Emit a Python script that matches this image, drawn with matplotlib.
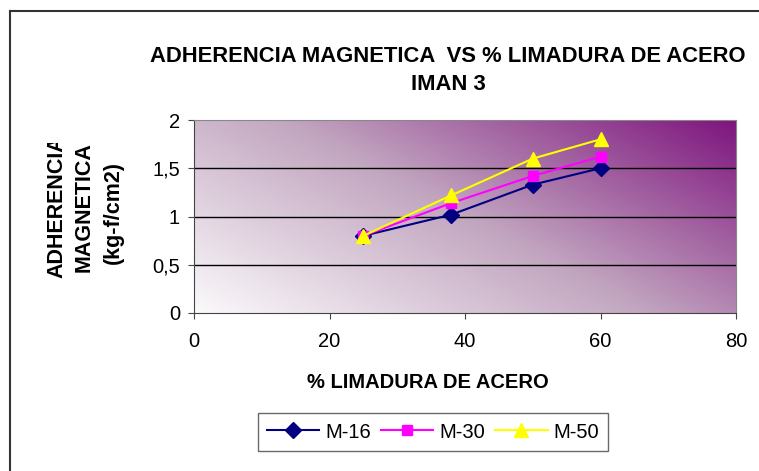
import numpy as np
import matplotlib
matplotlib.use("Agg")
import matplotlib.pyplot as plt
from matplotlib.colors import LinearSegmentedColormap
from matplotlib.lines import Line2D
from matplotlib.transforms import Bbox

plt.rcParams['font.family'] = ['Liberation Sans', 'DejaVu Sans']

# Data
limadura = [25, 38, 50, 60]
m16 = [0.80, 1.02, 1.33, 1.50]
m30 = [0.80, 1.14, 1.42, 1.62]
m50 = [0.80, 1.22, 1.60, 1.80]
series_names = ['M-16', 'M-30', 'M-50']
x_ticks = [0, 20, 40, 60, 80]
y_ticks = [0, 0.5, 1, 1.5, 2]
y_tick_labels = ['0', '0,5', '1', '1,5', '2']

fig = plt.figure(figsize=(7.59, 4.71), dpi=100)
ax = fig.add_axes([194 / 759, 1 - 313 / 471, (736 - 194) / 759, (313 - 120) / 471])

# gradient background (white bottom-left -> purple top-right)
cmap = LinearSegmentedColormap.from_list('grad', ['#fbf9fb', '#c2a6c0', '#7e157e'])
u, v = np.meshgrid(np.linspace(0, 1, 300), np.linspace(0, 1, 150))
t = (u * 0.6 + v * 0.4)
ax.imshow(t, extent=[0, 80, 0, 2], origin='lower', aspect='auto', cmap=cmap,
          vmin=0, vmax=1, zorder=0, interpolation='bilinear')

for yy in [0.5, 1, 1.5]:
    ax.axhline(yy, color='black', lw=1, zorder=1)

ax.plot(limadura, m16, color='#000080', marker='D', ms=8, lw=1.5, label=series_names[0], zorder=3)
ax.plot(limadura, m30, color='#FF00FF', marker='s', ms=7.5, lw=1.5, label=series_names[1], zorder=4)
ax.plot(limadura, m50, color='#FFFF00', marker='^', ms=10, lw=1.5, label=series_names[2], zorder=5)

ax.set_xlim(0, 80)
ax.set_ylim(0, 2)
ax.set_xticks(x_ticks)
ax.set_yticks(y_ticks)
ax.set_yticklabels(y_tick_labels)
ax.tick_params(labelsize=14.5, direction='out', length=4, color='#444444')
ax.tick_params(axis='x', pad=10)
ax.tick_params(axis='y', pad=6)
for s in ['top', 'right']:
    ax.spines[s].set_color('#888888')
for s in ['left', 'bottom']:
    ax.spines[s].set_color('#444444')

fig.text(448 / 759, 1 - 56 / 471, 'ADHERENCIA MAGNETICA  VS % LIMADURA DE ACERO',
         ha='center', va='center', fontsize=15.8, fontweight='bold')
fig.text(448 / 759, 1 - 85 / 471, 'IMAN 3', ha='center', va='center', fontsize=15.8, fontweight='bold')

fig.text(428 / 759, 1 - 383 / 471, '% LIMADURA DE ACERO', ha='center', va='center',
         fontsize=14.5, fontweight='bold')

# y label, first line clipped as in original
clip = Bbox.from_extents(0, 0, 759, 471 - 143)
t1 = fig.text(57 / 759, 1 - 278 / 471, 'ADHERENCIA', rotation=90, ha='center', va='bottom',
              fontsize=15.5, fontweight='bold')
t1.set_clip_box(clip)
t1.set_clip_on(True)
fig.text(84 / 759, 1 - 207 / 471, 'MAGNETICA', rotation=90, ha='center', va='center',
         fontsize=15.5, fontweight='bold')
fig.text(113 / 759, 1 - 213 / 471, '(kg-f/cm2)', rotation=90, ha='center', va='center',
         fontsize=15.5, fontweight='bold')

leg = fig.legend(loc='center', bbox_to_anchor=(433 / 759, 1 - 432 / 471), ncol=3,
                 fontsize=14.5, frameon=True, fancybox=False, edgecolor='#444444',
                 handlelength=2.6, columnspacing=0.5, handletextpad=0.3, borderpad=0.45)
leg.get_frame().set_linewidth(1)

# outer chart border (left and top)
fig.add_artist(Line2D([10 / 759, 10 / 759], [0, 1 - 11 / 471], color='#333333', lw=1.5))
fig.add_artist(Line2D([10 / 759, 1], [1 - 11 / 471, 1 - 11 / 471], color='#333333', lw=1.5))

fig.savefig('out.png', dpi=100)
